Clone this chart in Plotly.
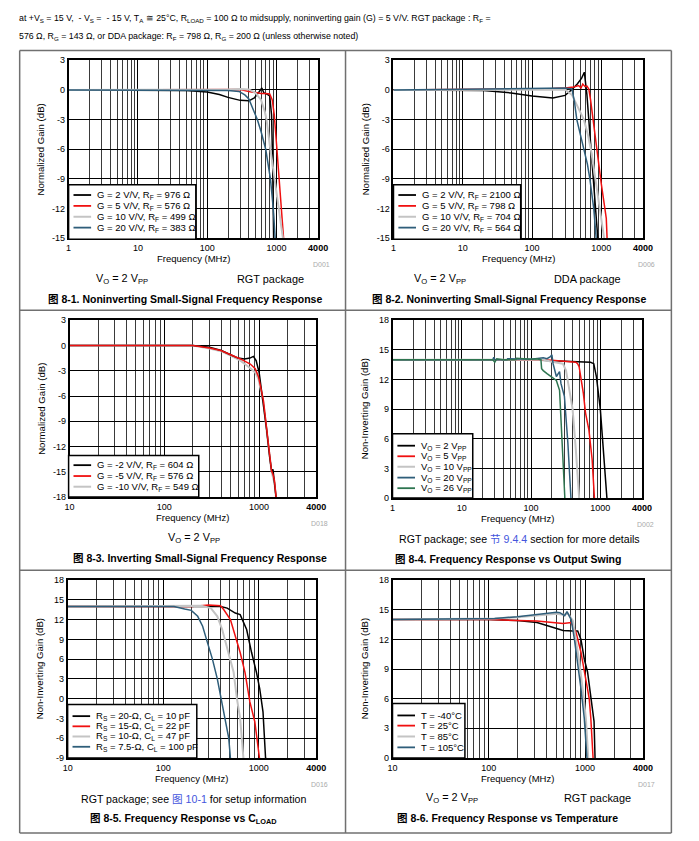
import plotly.graph_objects as go
import math

W, H = 699, 841

# ---------------- data (frequency MHz, gain dB) ----------------
# Fig 8-1 (RGT, noninverting)
p1_g2_f = [1, 10, 50, 100, 150, 200, 300, 400, 480, 560, 616, 660, 722, 800, 850, 880, 900, 915]
p1_g2_db = [0, 0, -0.05, -0.2, -0.45, -0.75, -1.05, -1.1, -0.8, -0.2, 0.2, -0.3, -0.4, -0.6, -2.5, -7, -12, -16]
p1_g5_f = [1, 100, 200, 300, 400, 500, 600, 700, 800, 870, 930, 980, 1040, 1100, 1170, 1240, 1300]
p1_g5_db = [0, 0, 0.05, 0.05, -0.15, -0.3, -0.35, -0.35, -0.4, -1.0, -2.5, -4.5, -7, -9.5, -12, -15, -16]
p1_g10_f = [1, 100, 200, 300, 400, 500, 600, 680, 720, 800, 900, 1000, 1110, 1240, 1300]
p1_g10_db = [0, 0, 0.05, 0.1, 0.05, -0.3, -1.0, -2.2, -3, -5.5, -8, -10.5, -12.5, -15, -16]
p1_g20_f = [1, 100, 200, 288, 350, 400, 470, 530, 600, 700, 820, 900, 970]
p1_g20_db = [0, 0, -0.05, -0.15, -0.5, -0.9, -2.0, -3, -4.2, -6, -9, -12, -15.5]

# Fig 8-2 (DDA, noninverting)
p2_g2_f = [1, 10, 20, 50, 100, 200, 300, 370, 450, 520, 569, 620, 662, 720, 778, 840, 897]
p2_g2_db = [0, 0, -0.05, -0.3, -0.6, -0.8, -0.55, 0, 0.6, 1.2, 1.8, -0.5, -3, -6, -9, -12, -15.3]
p2_g5_f = [1, 100, 200, 300, 400, 470, 510, 540, 580, 620, 660, 700, 760, 830, 900, 1000, 1100, 1180, 1220]
p2_g5_db = [0, 0.1, 0.15, 0.2, 0.3, 0.45, 0.2, 0.6, 0.35, 0.4, 0.1, -1.0, -3.0, -5.5, -7.5, -9.5, -11.5, -13, -15.5]
p2_g10_f = [1, 100, 200, 300, 377, 430, 470, 520, 560, 640, 707, 822, 947, 1114]
p2_g10_db = [0, 0.05, 0.1, 0.05, -0.5, -1.3, -2.0, -2.6, -3.0, -4.5, -6, -9, -12, -15.3]
p2_g20_f = [1, 100, 200, 300, 377, 410, 443, 500, 569, 630, 684, 778, 850]
p2_g20_db = [0, 0.2, 0.25, 0.2, 0.1, -1.2, -3, -4.5, -6, -7.5, -9, -12, -15.3]

# Fig 8-3 (inverting)
p3_g2_f = [10, 200, 300, 400, 500, 600, 700, 800, 870, 930, 1000, 1100, 1200, 1300, 1360, 1400, 1430, 1525]
p3_g2_db = [0, 0, -0.2, -0.6, -1.1, -1.5, -1.6, -1.5, -1.3, -1.8, -3.2, -6.5, -10, -13.5, -15, -14.7, -15.6, -18.5]
p3_g5_f = [10, 200, 300, 395, 500, 635, 807, 910, 985, 1109, 1250, 1353, 1400, 1450, 1525]
p3_g5_db = [0, 0, -0.3, -0.6, -1.1, -1.6, -2.2, -2.75, -3.7, -6.5, -11.6, -14.9, -15.3, -16, -18.5]
p3_g10_f = [10, 200, 300, 400, 500, 635, 807, 910, 985, 1109, 1250, 1353, 1450, 1525]
p3_g10_db = [0, 0, -0.35, -0.7, -1.2, -1.8, -2.7, -3.2, -4, -6.8, -11.8, -15, -16.3, -18.5]

# Fig 8-4 (output swing)
p4_v2_f = [1, 100, 200, 400, 722, 804, 877, 1000, 1108, 1242, 1260]
p4_v2_db = [14, 14, 13.9, 13.8, 13.75, 13.6, 12.3, 9.0, 4.6, 0, -0.5]
p4_v5_f = [1, 100, 200, 300, 443, 470, 494, 569, 612, 684, 762, 822, 830]
p4_v5_db = [14, 14, 13.95, 13.85, 13.75, 13.6, 13.3, 10.6, 8.6, 6.9, 3.9, 0, -0.5]
p4_v10_f = [1, 100, 150, 200, 288, 320, 398, 443, 494, 500]
p4_v10_db = [14, 14, 14, 13.8, 13.6, 12.9, 9.0, 4.9, 0, -0.5]
p4_v20_f = [1, 28, 29, 30, 45, 46, 100, 150, 170, 190, 200, 208, 232, 258, 270, 303, 340, 377, 380]
p4_v20_db = [14, 14, 14.25, 14, 14, 14.1, 14.05, 14.2, 14.1, 14.3, 14.5, 13.6, 12.3, 12.8, 11.6, 10.3, 5.6, 0, -0.5]
p4_v26_f = [1, 28, 30, 32, 40, 60, 62, 100, 120, 139, 142, 150, 170, 197, 232, 258, 279, 303, 310]
p4_v26_db = [14, 14, 13.75, 14.1, 14, 14, 14.15, 14.05, 14.1, 14.0, 13.1, 12.9, 12.6, 12.3, 11.9, 10.9, 5.6, 0, -0.5]

# Fig 8-5 (CLOAD)
p5_c10_f = [10, 300, 399, 468, 569, 640, 748, 843, 948, 1026, 1110, 1181, 1200]
p5_c10_db = [14, 14, 14.0, 13.75, 13.0, 12.75, 10.5, 7, 4, 1.5, -2, -9, -10]
p5_c22_f = [10, 200, 300, 399, 432, 506, 569, 640, 719, 809, 911, 963, 1026, 1040]
p5_c22_db = [14, 14, 14.2, 14.1, 13.5, 12, 9.5, 7, 4, -0.5, -3.5, -6.5, -9, -10]
p5_c47_f = [10, 200, 250, 316, 369, 415, 468, 547, 592, 640, 692, 700]
p5_c47_db = [14, 14.1, 14.1, 13.75, 12.5, 10.5, 7.5, 4, 0, -3, -9, -10]
p5_c100_f = [10, 130, 168, 197, 230, 259, 291, 328, 369, 399, 449, 486, 506, 510]
p5_c100_db = [14, 14, 13.6, 13.4, 12.5, 11, 8.5, 6, 3, 0.5, -3, -6, -9, -10]

# Fig 8-6 (temperature)
p6_tm40_f = [10, 100, 198, 317, 468, 591, 747, 839, 907, 982, 1062, 1148, 1240, 1270, 1280]
p6_tm40_db = [14, 14, 13.9, 13.7, 13.2, 12.9, 12.85, 12.85, 12, 10, 8.7, 6, 3.7, 0, -0.5]
p6_t25_f = [10, 100, 317, 433, 591, 718, 807, 907, 1020, 1105, 1148, 1211, 1220]
p6_t25_db = [14, 14, 13.85, 13.7, 13.6, 13.7, 12.7, 10.7, 7.7, 6, 4, 0, -0.5]
p6_t85_f = [10, 115, 198, 317, 506, 591, 664, 747, 807, 873, 944, 1020, 1080, 1090]
p6_t85_db = [14, 14.1, 14.25, 14.45, 14.6, 14.5, 14.6, 13.9, 12, 9.7, 7, 4, 0, -0.5]
p6_t105_f = [10, 115, 198, 317, 506, 547, 615, 649, 718, 776, 839, 907, 982, 1045, 1055]
p6_t105_db = [14, 14.1, 14.3, 14.5, 14.75, 14.7, 14.4, 14.8, 14, 12, 9.7, 7, 4, 0, -0.5]

# legend labels
p1_labels = ["G = 2 V/V, R<sub>F</sub> = 976 Ω", "G = 5 V/V, R<sub>F</sub> = 576 Ω",
             "G = 10 V/V, R<sub>F</sub> = 499 Ω", "G = 20 V/V, R<sub>F</sub> = 383 Ω"]
p2_labels = ["G = 2 V/V, R<sub>F</sub> = 2100 Ω", "G = 5 V/V, R<sub>F</sub> = 798 Ω",
             "G = 10 V/V, R<sub>F</sub> = 704 Ω", "G = 20 V/V, R<sub>F</sub> = 564 Ω"]
p3_labels = ["G = -2 V/V, R<sub>F</sub> = 604 Ω", "G = -5 V/V, R<sub>F</sub> = 576 Ω",
             "G = -10 V/V, R<sub>F</sub> = 549 Ω"]
p4_labels = ["V<sub>O</sub> = 2 V<sub>PP</sub>", "V<sub>O</sub> = 5 V<sub>PP</sub>",
             "V<sub>O</sub> = 10 V<sub>PP</sub>", "V<sub>O</sub> = 20 V<sub>PP</sub>",
             "V<sub>O</sub> = 26 V<sub>PP</sub>"]
p5_labels = ["R<sub>S</sub> = 20-Ω, C<sub>L</sub> = 10 pF", "R<sub>S</sub> = 15-Ω, C<sub>L</sub> = 22 pF",
             "R<sub>S</sub> = 10-Ω, C<sub>L</sub> = 47 pF", "R<sub>S</sub> = 7.5-Ω, C<sub>L</sub> = 100 pF"]
p6_labels = ["T = -40°C", "T = 25°C", "T = 85°C", "T = 105°C"]

# tick labels
x_ticks_1 = [1, 10, 100, 1000, 4000]
x_ticks_10 = [10, 100, 1000, 4000]
y_ticks_p12 = [-15, -12, -9, -6, -3, 0, 3]
y_ticks_p3 = [-18, -15, -12, -9, -6, -3, 0, 3]
y_ticks_p46 = [0, 3, 6, 9, 12, 15, 18]
y_ticks_p5 = [-9, -6, -3, 0, 3, 6, 9, 12, 15, 18]

# ---------------- styling helpers ----------------
FONT = "Liberation Sans, Arial, sans-serif"
CJK = "Liberation Sans, Noto Sans CJK SC, sans-serif"
BLACK, RED, GRAY, BLUE, GREEN = "#000000", "#f01010", "#c4c4c4", "#2f5e7a", "#2e7550"
TICK = 9.0


def PX(x):
    return x / W


def PY(y):
    return 1 - y / H


fig = go.Figure()
shapes = []
annotations = []

panels = [
    dict(i=1, xd=(65, 320), yd=(56, 236), xt=x_ticks_1, yr=(-15, 3), yt=y_ticks_p12,
         series=[(p1_g2_f, p1_g2_db, BLACK), (p1_g5_f, p1_g5_db, RED),
                 (p1_g10_f, p1_g10_db, GRAY), (p1_g20_f, p1_g20_db, BLUE)],
         labels=p1_labels, box=(65, 182, 195, 237), ly=[192.3, 203.3, 214.3, 225.3], sx=(70, 88), tx=92,
         ytitle="Normalized Gain (dB)", dlabel="D001"),
    dict(i=2, xd=(397, 652), yd=(56, 236), xt=x_ticks_1, yr=(-15, 3), yt=y_ticks_p12,
         series=[(p2_g2_f, p2_g2_db, BLACK), (p2_g5_f, p2_g5_db, RED),
                 (p2_g10_f, p2_g10_db, GRAY), (p2_g20_f, p2_g20_db, BLUE)],
         labels=p2_labels, box=(397, 182, 527, 237), ly=[192.3, 203.3, 214.3, 225.3], sx=(402, 420), tx=424,
         ytitle="Normalized Gain (dB)", dlabel="D006"),
    dict(i=3, xd=(66, 318), yd=(319, 498), xt=x_ticks_10, yr=(-18, 3), yt=y_ticks_p3,
         series=[(p3_g10_f, p3_g10_db, GRAY), (p3_g2_f, p3_g2_db, BLACK), (p3_g5_f, p3_g5_db, RED)],
         labels=p3_labels, box=(65, 456, 198, 498), ly=[465.7, 476.7, 487.5], sx=(70, 88), tx=92,
         ytitle="Normalized Gain (dB)", dlabel="D018", lcolors=[BLACK, RED, GRAY]),
    dict(i=4, xd=(396, 651), yd=(319, 499), xt=x_ticks_1, yr=(0, 18), yt=y_ticks_p46,
         series=[(p4_v2_f, p4_v2_db, BLACK), (p4_v5_f, p4_v5_db, RED), (p4_v10_f, p4_v10_db, GRAY),
                 (p4_v20_f, p4_v20_db, BLUE), (p4_v26_f, p4_v26_db, GREEN)],
         labels=p4_labels, box=(396, 434, 478, 499), ly=[446, 456.7, 467.3, 478.3, 489], sx=(401, 419), tx=423,
         ytitle="Non-Inverting Gain (dB)", dlabel="D002"),
    dict(i=5, xd=(64, 318), yd=(582, 762), xt=x_ticks_10, yr=(-9, 18), yt=y_ticks_p5,
         series=[(p5_c10_f, p5_c10_db, BLACK), (p5_c22_f, p5_c22_db, RED),
                 (p5_c47_f, p5_c47_db, GRAY), (p5_c100_f, p5_c100_db, BLUE)],
         labels=p5_labels, box=(64, 708, 196, 762), ly=[719.7, 730, 740.3, 750.7], sx=(69, 87), tx=91,
         ytitle="Non-Inverting Gain (dB)", dlabel="D016"),
    dict(i=6, xd=(396, 652), yd=(582, 762), xt=x_ticks_10, yr=(0, 18), yt=y_ticks_p46,
         series=[(p6_tm40_f, p6_tm40_db, BLACK), (p6_t25_f, p6_t25_db, RED),
                 (p6_t85_f, p6_t85_db, GRAY), (p6_t105_f, p6_t105_db, BLUE)],
         labels=p6_labels, box=(396, 707, 470, 762), ly=[719, 729.3, 740.3, 751.3], sx=(401, 419), tx=423,
         ytitle="Non-Inverting Gain (dB)", dlabel="D017"),
]

for p in panels:
    i = p["i"]
    xa = "x" if i == 1 else f"x{i}"
    ya = "y" if i == 1 else f"y{i}"
    xkey = "xaxis" if i == 1 else f"xaxis{i}"
    ykey = "yaxis" if i == 1 else f"yaxis{i}"
    xmin = p["xt"][0]
    decs = [d for d in (1, 10, 100, 1000) if d >= xmin]
    minor_vals = [m * d for d in decs for m in range(2, 10) if m * d < 4000]
    fig.update_layout({
        xkey: dict(
            type="log", domain=[PX(p["xd"][0]), PX(p["xd"][1])], anchor=ya,
            range=[math.log10(xmin), math.log10(4000)],
            tickmode="array", tickvals=p["xt"],
            ticktext=[str(v) if v != 4000 else "<b>4000</b>" for v in p["xt"]],
            showgrid=True, gridcolor="#000000", gridwidth=1.3,
            minor=dict(tickmode="array", tickvals=minor_vals, showgrid=True,
                       gridcolor="#3a3a3a", gridwidth=1.4, ticks=""),
            showline=True, mirror=True, linecolor="#000000", linewidth=1.6,
            ticks="", zeroline=False,
            tickfont=dict(family=FONT, size=TICK, color="#000000"),
        ),
        ykey: dict(
            domain=[PY(p["yd"][1]), PY(p["yd"][0])], anchor=xa,
            range=list(p["yr"]), tickmode="array", tickvals=p["yt"],
            ticktext=[str(v) for v in p["yt"]],
            showgrid=True, gridcolor="#000000", gridwidth=1.2,
            showline=True, mirror=True, linecolor="#000000", linewidth=1.6,
            ticks="", zeroline=False,
            tickfont=dict(family=FONT, size=TICK, color="#000000"),
        ),
    })
    for f, db, c in p["series"]:
        fig.add_trace(go.Scatter(
            x=f, y=db, mode="lines", xaxis=xa, yaxis=ya,
            line=dict(color=c, width=2.0 if c == GRAY else 1.5),
            showlegend=False, hoverinfo="skip"))

    bx0, by0, bx1, by1 = p["box"]
    shapes.append(dict(type="rect", xref="paper", yref="paper",
                       x0=PX(bx0), x1=PX(bx1), y0=PY(by1), y1=PY(by0),
                       fillcolor="white", line=dict(color="#000000", width=1.5), layer="above"))
    lcolors = p.get("lcolors", [s[2] for s in p["series"]])
    for lab, yy, c in zip(p["labels"], p["ly"], lcolors):
        shapes.append(dict(type="line", xref="paper", yref="paper",
                           x0=PX(p["sx"][0]), x1=PX(p["sx"][1]), y0=PY(yy), y1=PY(yy),
                           line=dict(color=c, width=2.0 if c == GRAY else 1.8), layer="above"))
        annotations.append(dict(xref="paper", yref="paper", x=PX(p["tx"]), y=PY(yy),
                                xanchor="left", yanchor="middle", showarrow=False, text=lab,
                                font=dict(family=FONT, size=9.5, color="#000000")))

    xc = (p["xd"][0] + p["xd"][1]) / 2
    yc = (p["yd"][0] + p["yd"][1]) / 2
    annotations.append(dict(xref="paper", yref="paper", x=PX(xc), y=PY(p["yd"][1] + 21),
                            xanchor="center", yanchor="middle", showarrow=False,
                            text="Frequency (MHz)", font=dict(family=FONT, size=9.5, color="#000000")))
    annotations.append(dict(xref="paper", yref="paper", x=PX(p["xd"][0] - 29), y=PY(yc),
                            xanchor="center", yanchor="middle", showarrow=False, textangle=-90,
                            text=p["ytitle"], font=dict(family=FONT, size=9.6, color="#000000")))
    annotations.append(dict(xref="paper", yref="paper", x=PX(p["xd"][1] + 14), y=PY(p["yd"][1] + 27),
                            xanchor="right", yanchor="middle", showarrow=False,
                            text=p["dlabel"], font=dict(family=FONT, size=7, color="#aaaaaa")))


def txt(x, y, s, size=11, bold=False, anchor="center", color="#000000", family=FONT):
    annotations.append(dict(xref="paper", yref="paper", x=PX(x), y=PY(y), xanchor=anchor,
                            yanchor="middle", showarrow=False,
                            text=("<b>%s</b>" % s) if bold else s,
                            font=dict(family=family, size=size, color=color)))


VO = "V<sub>O</sub> = 2 V<sub>PP</sub>"
CAP = 10.5
SUB = 10.9
txt(120, 277, VO, SUB)
txt(271, 277, "RGT package", SUB)
txt(445, 277, VO, SUB)
txt(595, 277, "DDA package", SUB)
txt(184, 298, "图 8-1. Noninverting Small-Signal Frequency Response", CAP, True, family=CJK)
txt(515, 298, "图 8-2. Noninverting Small-Signal Frequency Response", CAP, True, family=CJK)

txt(193, 539, VO, SUB)
txt(199, 560, "图 8-3. Inverting Small-Signal Frequency Response", CAP, True, family=CJK)
txt(526, 540, "RGT package; see <span style='color:#4455dd'>节 9.4.4</span> section for more details", 10.6, family=CJK)
txt(514, 561, "图 8-4. Frequency Response vs Output Swing", CAP, True, family=CJK)

txt(193, 804, "RGT package; see <span style='color:#4455dd'>图 10-1</span> for setup information", 10.6, family=CJK)
txt(182, 824, "图 8-5. Frequency Response vs C<sub>LOAD</sub>", CAP, True, family=CJK)
txt(457, 803, VO, SUB)
txt(605, 803, "RGT package", SUB)
txt(514, 823, "图 8-6. Frequency Response vs Temperature", CAP, True, family=CJK)

txt(12, 14, "at +V<sub>S</sub> = 15 V,  ‑ V<sub>S</sub> =  ‑ 15 V, T<sub>A</sub> ≅ 25°C, R<sub>LOAD</sub> = 100 Ω to midsupply, "
    "noninverting gain (G) = 5 V/V. RGT package : R<sub>F</sub> =", 8.8, anchor="left")
txt(12, 32, "576 Ω, R<sub>G</sub> = 143 Ω, or DDA package: R<sub>F</sub> = 798 Ω, R<sub>G</sub> = 200 Ω (unless otherwise noted)",
    8.8, anchor="left")

FR = dict(color="#707070", width=1.5)
for yy in (46, 309, 572, 838):
    shapes.append(dict(type="line", xref="paper", yref="paper", x0=PX(15), x1=PX(681),
                       y0=PY(yy), y1=PY(yy), line=FR))
for xx in (15, 348, 681):
    shapes.append(dict(type="line", xref="paper", yref="paper", x0=PX(xx), x1=PX(xx),
                       y0=PY(46), y1=PY(838), line=FR))

fig.update_layout(
    width=W, height=H, margin=dict(l=0, r=0, t=0, b=0),
    paper_bgcolor="white", plot_bgcolor="white", showlegend=False,
    shapes=shapes, annotations=annotations,
    font=dict(family=FONT, size=10, color="#000000"),
)

POST = """
var de=document.documentElement, bd=document.body;
de.style.margin='0'; de.style.padding='0'; de.style.overflow='hidden';
bd.style.margin='0'; bd.style.padding='0'; bd.style.overflow='hidden';
"""

fig.write_html("out.html", config=dict(displayModeBar=False, responsive=False), post_script=POST)
